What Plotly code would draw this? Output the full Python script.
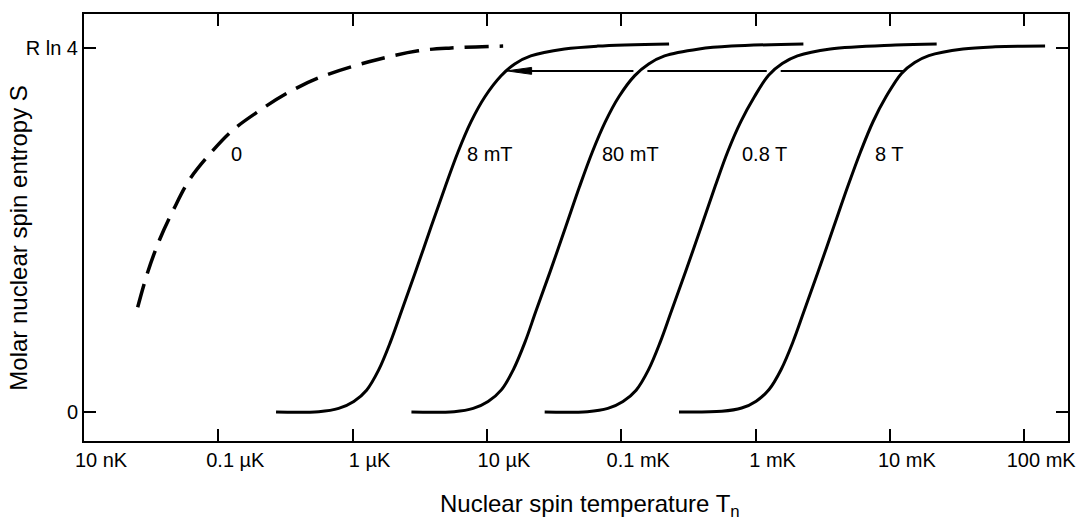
import numpy as np
import plotly.graph_objects as go

# Nuclear spin temperature in kelvin; entropy as a fraction of R ln 4
t_zero = [2.51e-8, 2.98e-8, 3.66e-8, 4.64e-8, 6.10e-8, 8.57e-8, 1.27e-7,
          2.01e-7, 3.19e-7, 5.60e-7, 1.32e-6, 3.08e-6, 5.41e-6, 1.32e-5]
s_zero = [0.288, 0.384, 0.474, 0.556, 0.638, 0.707, 0.773,
          0.827, 0.874, 0.918, 0.962, 0.992, 1.000, 1.005]

t_8mT = [2.69e-7, 5.60e-7, 7.87e-7, 1.02e-6, 1.27e-6, 1.56e-6, 1.91e-6,
         2.31e-6, 2.93e-6, 3.85e-6, 4.89e-6, 6.10e-6, 7.60e-6, 9.66e-6,
         1.27e-5, 1.61e-5, 2.12e-5, 3.78e-5, 6.64e-5, 2.27e-4]
s_8mT = [0.000, 0.001, 0.010, 0.029, 0.060, 0.115, 0.192,
         0.277, 0.384, 0.510, 0.619, 0.715, 0.797, 0.866,
         0.923, 0.956, 0.978, 0.997, 1.005, 1.011]

t_80mT = [2.74e-6, 5.70e-6, 7.90e-6, 1.02e-5, 1.28e-5, 1.57e-5, 1.92e-5,
          2.32e-5, 2.95e-5, 3.87e-5, 4.90e-5, 6.10e-5, 7.60e-5, 9.60e-5,
          1.26e-4, 1.60e-4, 2.10e-4, 3.80e-4, 6.60e-4, 2.27e-3]
s_80mT = [0.000, 0.001, 0.010, 0.029, 0.061, 0.116, 0.192,
          0.278, 0.385, 0.510, 0.620, 0.715, 0.797, 0.866,
          0.924, 0.956, 0.978, 0.997, 1.005, 1.011]

t_08T = [2.69e-5, 5.60e-5, 7.95e-5, 1.03e-4, 1.29e-4, 1.59e-4, 1.95e-4,
         2.36e-4, 3.00e-4, 3.95e-4, 5.00e-4, 6.20e-4, 7.75e-4, 9.80e-4,
         1.25e-3, 1.58e-3, 2.05e-3, 3.60e-3, 1.10e-2, 2.23e-2]
s_08T = [0.000, 0.001, 0.010, 0.029, 0.060, 0.115, 0.192,
         0.277, 0.384, 0.510, 0.620, 0.715, 0.797, 0.866,
         0.925, 0.957, 0.978, 0.997, 1.008, 1.011]

t_8T = [2.69e-4, 5.60e-4, 7.87e-4, 1.01e-3, 1.26e-3, 1.55e-3, 1.90e-3,
        2.30e-3, 2.92e-3, 3.83e-3, 4.86e-3, 6.05e-3, 7.50e-3, 9.40e-3,
        1.22e-2, 1.53e-2, 1.95e-2, 3.50e-2, 6.10e-2, 1.43e-1]
s_8T = [0.000, 0.002, 0.011, 0.030, 0.062, 0.117, 0.193,
        0.278, 0.385, 0.510, 0.620, 0.715, 0.798, 0.867,
        0.930, 0.960, 0.979, 0.997, 1.003, 1.005]

curve_labels = ["0", "8 mT", "80 mT", "0.8 T", "8 T"]
label_t = [1.20e-7, 6.9e-6, 7.0e-5, 7.6e-4, 7.5e-3]
label_s = [0.71, 0.71, 0.71, 0.71, 0.71]

x_tick_vals = [1e-8, 1e-7, 1e-6, 1e-5, 1e-4, 1e-3, 1e-2, 1e-1]
x_tick_text = ["10 nK", "0.1 µK", "1 µK", "10 µK", "0.1 mK", "1 mK", "10 mK", "100 mK"]
y_tick_vals = [0, 1]
y_tick_text = ["0", "R ln 4"]

# adiabatic demagnetisation: constant entropy from 8 T down to 8 mT
arrow_level = 0.937

FONT = "Liberation Sans, Arial, Helvetica, sans-serif"
BLACK = "black"

fig = go.Figure()

for t, s in [(t_8mT, s_8mT), (t_80mT, s_80mT), (t_08T, s_08T), (t_8T, s_8T)]:
    fig.add_trace(go.Scatter(x=t, y=s, mode="lines",
                             line=dict(color=BLACK, width=3, shape="spline", smoothing=1.0),
                             hoverinfo="skip"))

fig.add_trace(go.Scatter(x=t_zero, y=s_zero, mode="lines",
                         line=dict(color=BLACK, width=3.5, shape="spline", smoothing=1.0,
                                   dash="24px,11px"),
                         hoverinfo="skip"))


def crossing(t, s, level):
    """log10 T where a curve reaches the given entropy."""
    return float(np.interp(level, s, np.log10(t)))


x_start = crossing(t_8T, s_8T, arrow_level)
x_tip = crossing(t_8mT, s_8mT, arrow_level)
gaps = [crossing(t_08T, s_08T, arrow_level), crossing(t_80mT, s_80mT, arrow_level)]
gap_half = 0.052          # decades either side of a crossed curve
head_len = 0.185          # decades
head_half = 0.0095        # entropy units

# arrow shaft, broken where it passes the intermediate curves
pieces = []
right = x_start
for g in gaps:
    pieces.append((g + gap_half, right))
    right = g - gap_half
pieces.append((x_tip + head_len * 0.8, right))
for a, b in pieces:
    fig.add_trace(go.Scatter(x=[10 ** a, 10 ** b], y=[arrow_level, arrow_level],
                             mode="lines", line=dict(color=BLACK, width=2),
                             hoverinfo="skip"))

# arrowhead
fig.add_trace(go.Scatter(
    x=[10 ** x_tip, 10 ** (x_tip + head_len), 10 ** (x_tip + head_len), 10 ** x_tip],
    y=[arrow_level, arrow_level + head_half, arrow_level - head_half, arrow_level],
    mode="lines", fill="toself", fillcolor=BLACK,
    line=dict(color=BLACK, width=1), hoverinfo="skip"))

for txt, t, s in zip(curve_labels, label_t, label_s):
    fig.add_annotation(x=np.log10(t), y=s, xref="x", yref="y", text=txt,
                       showarrow=False, xanchor="left", yanchor="middle",
                       font=dict(family=FONT, size=20, color=BLACK))

fig.add_annotation(x=0.514, y=-0.15, xref="paper", yref="paper",
                   text="Nuclear spin temperature T<sub>n</sub>", showarrow=False,
                   xanchor="center", yanchor="middle",
                   font=dict(family=FONT, size=24, color=BLACK))
fig.add_annotation(x=-0.066, y=0.474, xref="paper", yref="paper",
                   text="Molar nuclear spin entropy S", showarrow=False, textangle=-90,
                   xanchor="center", yanchor="middle",
                   font=dict(family=FONT, size=24, color=BLACK))

axis_common = dict(showline=True, linewidth=2, linecolor=BLACK, mirror="ticks",
                   ticks="inside", ticklen=12, tickwidth=2, tickcolor=BLACK,
                   showgrid=False, zeroline=False,
                   tickfont=dict(family=FONT, size=20, color=BLACK))

fig.update_xaxes(type="log", range=[-8, -0.674], tickvals=x_tick_vals,
                 ticktext=x_tick_text, ticklabelshift=17, **axis_common)
fig.update_yaxes(range=[-0.0795, 1.0932], tickvals=y_tick_vals,
                 ticktext=y_tick_text, **axis_common)

fig.update_layout(width=1088, height=522, showlegend=False,
                  margin=dict(l=84, r=15, t=13, b=81),
                  plot_bgcolor="white", paper_bgcolor="white",
                  font=dict(family=FONT, color=BLACK))

fig.write_html("out.html")
